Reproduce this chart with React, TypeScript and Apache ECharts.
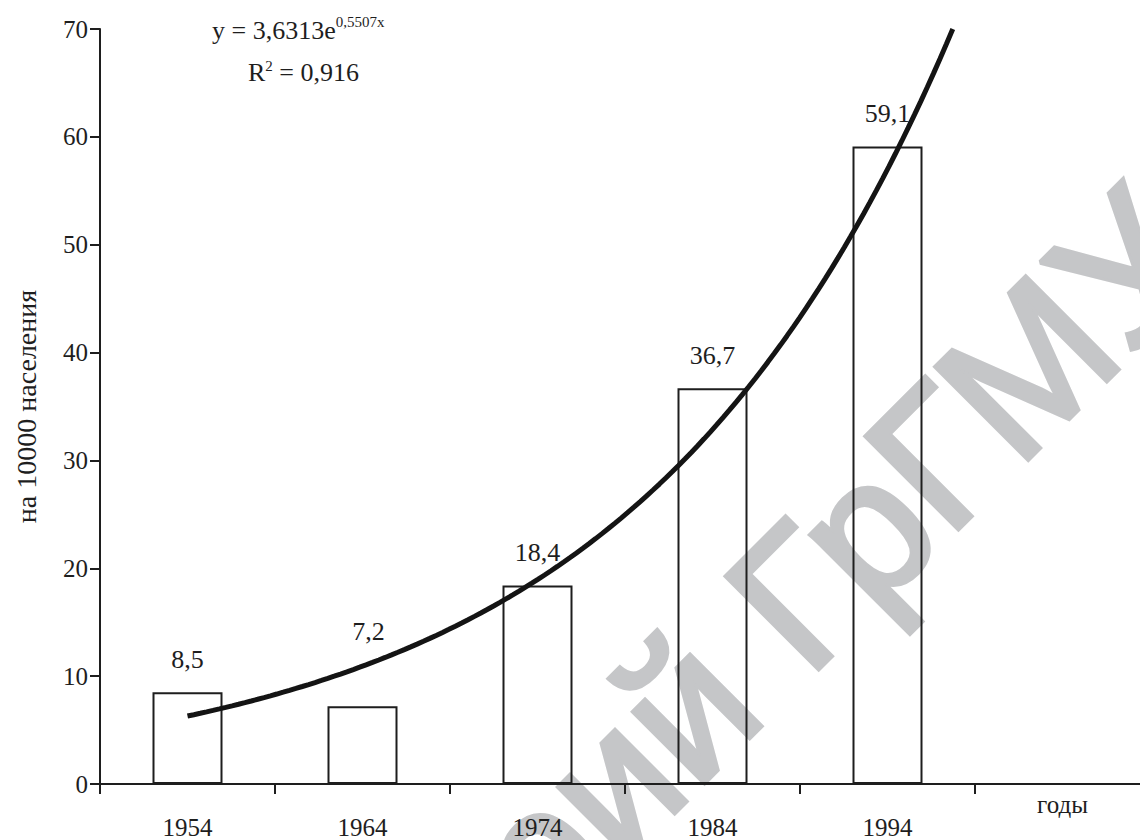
import React, { useEffect, useRef } from "react";
import * as echarts from "echarts";

const YEARS = ["1954", "1964", "1974", "1984", "1994"];
const X_END_LABEL = "годы";
const CATEGORIES = [...YEARS, X_END_LABEL];
const RATE = [8.5, 7.2, 18.4, 36.7, 59.1];
const Y_TICKS = [0, 10, 20, 30, 40, 50, 60, 70];
const Y_AXIS_NAME = "на 10000 населения";
// Trend equation printed on the chart: y = 3,6313e^(0,5507x), R² = 0,916
const TREND_A = 3.6313;
const TREND_B = 0.5507;
const TREND_R2 = "0,916";
const WATERMARK_HEAD = "Репозиторий";
const WATERMARK_TAIL = "ГрГМУ";

const SERIF = "'Liberation Serif', 'Times New Roman', serif";
const SANS = "'Liberation Sans', Arial, sans-serif";
const INK = "#1e1e1e";
const WM = "#c5c6c8";

function fmt(v: number) {
  return String(v).replace(".", ",");
}

export default function App() {
  const ref = useRef<HTMLDivElement | null>(null);

  useEffect(() => {
    if (!ref.current) return;
    const chart = echarts.init(ref.current, undefined, { renderer: "svg" });

    const yMax = Y_TICKS[Y_TICKS.length - 1];
    const xEnd = Math.log(yMax / TREND_A) / TREND_B;
    const trend: number[][] = [];
    const steps = 120;
    for (let i = 0; i <= steps; i++) {
      const x = 1 + ((xEnd - 1) * i) / steps;
      trend.push([x, TREND_A * Math.exp(TREND_B * x)]);
    }

    const F = 190;
    const wmStyle = {
      fontFamily: SANS,
      fontSize: F,
      fill: WM,
      stroke: WM,
      lineWidth: 5,
      textVerticalAlign: "bottom",
    };
    chart.setOption({
      animation: false,
      backgroundColor: "#ffffff",
      textStyle: { fontFamily: SERIF },
      grid: { left: 100, right: 0, top: 29, bottom: 53, containLabel: false },
      xAxis: [
        {
          type: "category",
          data: CATEGORIES,
          boundaryGap: true,
          axisLine: { lineStyle: { color: INK, width: 2 } },
          axisTick: { show: true, length: 10, inside: false, lineStyle: { color: INK, width: 2 } },
          axisLabel: {
            color: INK,
            fontFamily: SERIF,
            fontSize: 25,
            margin: 8,
            interval: 0,
            formatter: (v: string) => (v === X_END_LABEL ? `{e|${v}}` : `{y|${v}}`),
            rich: {
              y: { fontFamily: SERIF, fontSize: 25, color: INK, padding: [23, 0, 0, 0] },
              e: { fontFamily: SERIF, fontSize: 25, color: INK },
            },
          },
          splitLine: { show: false },
        },
        {
          type: "value",
          min: 0.5,
          max: CATEGORIES.length + 0.5,
          show: false,
          gridIndex: 0,
        },
      ],
      yAxis: {
        type: "value",
        min: 0,
        max: yMax,
        interval: 10,
        name: Y_AXIS_NAME,
        nameLocation: "middle",
        nameRotate: 90,
        nameGap: 60,
        nameTextStyle: { fontFamily: SERIF, fontSize: 28, color: INK },
        axisLine: { show: true, lineStyle: { color: INK, width: 2 } },
        axisTick: { show: true, length: 10, lineStyle: { color: INK, width: 2 } },
        axisLabel: { color: INK, fontFamily: SERIF, fontSize: 25, margin: 12 },
        splitLine: { show: false },
      },
      graphic: [
        {
          type: "group",
          x: 800,
          y: 672,
          rotation: Math.PI / 4,
          z: -10,
          silent: true,
          children: [
            {
              type: "text",
              x: 0,
              y: 0.21 * F,
              style: { ...wmStyle, text: WATERMARK_TAIL, textAlign: "left" },
            },
            {
              type: "text",
              x: -0.278 * F,
              y: 0.21 * F,
              style: { ...wmStyle, text: WATERMARK_HEAD, textAlign: "right" },
            },
          ],
        },
        {
          type: "text",
          left: 212,
          top: 14,
          z: 10,
          style: {
            text: `{m|y = ${fmt(TREND_A)}e}{s|${fmt(TREND_B)}x}`,
            rich: {
              m: { fontFamily: SERIF, fontSize: 26, fill: INK, color: INK, verticalAlign: "bottom" },
              s: { fontFamily: SERIF, fontSize: 15, fill: INK, color: INK, verticalAlign: "top", padding: [0, 0, 14, 0] },
            },
          } as any,
        },
        {
          type: "text",
          left: 248,
          top: 58,
          z: 10,
          style: {
            text: `{m|R}{s|2}{m| = ${TREND_R2}}`,
            rich: {
              m: { fontFamily: SERIF, fontSize: 26, fill: INK, color: INK },
              s: { fontFamily: SERIF, fontSize: 15, fill: INK, color: INK, padding: [0, 0, 14, 0] },
            },
          } as any,
        },
      ],
      series: [
        {
          type: "bar",
          xAxisIndex: 0,
          barWidth: "40%",
          itemStyle: { color: "rgba(255,255,255,0)", borderColor: INK, borderWidth: 2 },
          label: {
            show: true,
            position: "top",
            distance: 20,
            fontFamily: SERIF,
            fontSize: 26,
            color: INK,
            formatter: (p: any) => fmt(p.value),
          },
          data: RATE.map((v, i) =>
            i === 1 ? { value: v, label: { distance: 62, offset: [6, 0] } } : v
          ),
          z: 3,
        },
        {
          type: "line",
          xAxisIndex: 1,
          data: trend,
          showSymbol: false,
          symbol: "none",
          smooth: false,
          lineStyle: { color: "#141414", width: 5 },
          clip: true,
          z: 4,
        },
      ],
    });

    return () => chart.dispose();
  }, []);

  return (
    <div
      style={{
        position: "fixed",
        left: 0,
        top: 0,
        width: 1140,
        height: 840,
        overflow: "hidden",
        background: "#fff",
      }}
    >
      <div ref={ref} style={{ width: 1150, height: 840 }} />
    </div>
  );
}
